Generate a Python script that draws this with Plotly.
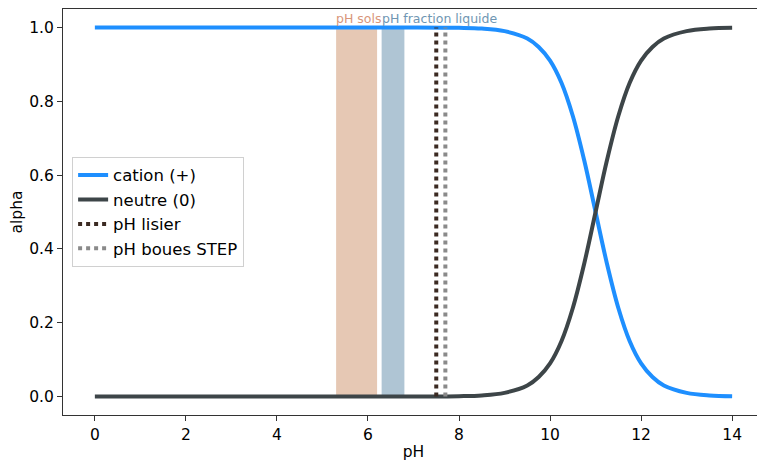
import plotly.graph_objects as go

# Values
ph = [0, 1, 2, 3, 4, 5, 6, 7, 8, 8.5, 9, 9.5, 9.75, 10, 10.25, 10.5, 10.75, 11,
      11.25, 11.5, 11.75, 12, 12.25, 12.5, 13, 13.5, 14]
cation = [1.0, 1.0, 1.0, 1.0, 1.0, 1.0, 1.0, 1.0, 0.999, 0.997, 0.99, 0.97, 0.947,
          0.91, 0.85, 0.76, 0.64, 0.5, 0.36, 0.24, 0.15, 0.09, 0.053, 0.03, 0.01,
          0.003, 0.001]
neutre = [0.0, 0.0, 0.0, 0.0, 0.0, 0.0, 0.0, 0.0, 0.001, 0.003, 0.01, 0.03, 0.053,
          0.09, 0.15, 0.24, 0.36, 0.5, 0.64, 0.76, 0.85, 0.91, 0.947, 0.97, 0.99,
          0.997, 0.999]

band_names = ["pH sols", "pH fraction liquide"]
band_ranges = [(5.3, 6.2), (6.3, 6.8)]
band_fill = ["rgba(205,145,105,0.5)", "rgba(95,140,170,0.5)"]
band_text = ["#d9967a", "#6f96b3"]

vline_names = ["pH lisier", "pH boues STEP"]
vline_x = [7.5, 7.7]
vline_colors = ["#3b2a22", "#8a8a8a"]

font = "DejaVu Sans"
fig = go.Figure()

for (x0, x1), c in zip(band_ranges, band_fill):
    fig.add_shape(type="rect", x0=x0, x1=x1, y0=0, y1=1, xref="x", yref="y",
                  fillcolor=c, line_width=0, layer="below")

for name, (x0, x1), tc in zip(band_names, band_ranges, band_text):
    fig.add_annotation(x=x0, y=1.0, xref="x", yref="y", text=name, showarrow=False,
                       xanchor="left", yanchor="bottom", yshift=-1, xshift=-2,
                       font=dict(family=font, size=12.5, color=tc))

fig.add_trace(go.Scatter(x=ph, y=cation, mode="lines", name="cation (+)",
                         line=dict(color="#1e8fff", width=4, shape="spline")))
fig.add_trace(go.Scatter(x=ph, y=neutre, mode="lines", name="neutre (0)",
                         line=dict(color="#3d4548", width=4, shape="spline")))

for name, xv, c in zip(vline_names, vline_x, vline_colors):
    fig.add_trace(go.Scatter(x=[xv, xv], y=[0, 1], mode="lines", name=name,
                             line=dict(color=c, width=4, dash="dot")))

axis_common = dict(showline=True, linecolor="#333", linewidth=1, mirror=True,
                   ticks="outside", ticklen=5, tickcolor="#333", showgrid=False,
                   zeroline=False, automargin=False,
                   tickfont=dict(family=font, size=15.5, color="black"))

# the page body adds an 8px offset; size the figure so the plot area lands as in the reference
fig.update_layout(
    width=757, height=455,
    margin=dict(l=55, r=1, t=1, b=48, autoexpand=False),
    plot_bgcolor="white", paper_bgcolor="white",
    font=dict(family=font, size=15, color="black"),
    xaxis=dict(range=[-0.7, 14.7], tickvals=[0, 2, 4, 6, 8, 10, 12, 14],
               title=dict(text="pH", font=dict(family=font, size=15.5), standoff=3),
               **axis_common),
    yaxis=dict(range=[-0.05, 1.05], tickvals=[0, 0.2, 0.4, 0.6, 0.8, 1.0],
               tickformat=".1f",
               title=dict(text="alpha", font=dict(family=font, size=15.5), standoff=8),
               **axis_common),
    legend=dict(x=0.013, y=0.636, xanchor="left", yanchor="top",
                bgcolor="rgba(255,255,255,0.8)", bordercolor="#d0d0d0", borderwidth=1,
                font=dict(family=font, size=16.5, color="black"),
                tracegroupgap=0),
    showlegend=True,
)

fig.write_html("out.html")
